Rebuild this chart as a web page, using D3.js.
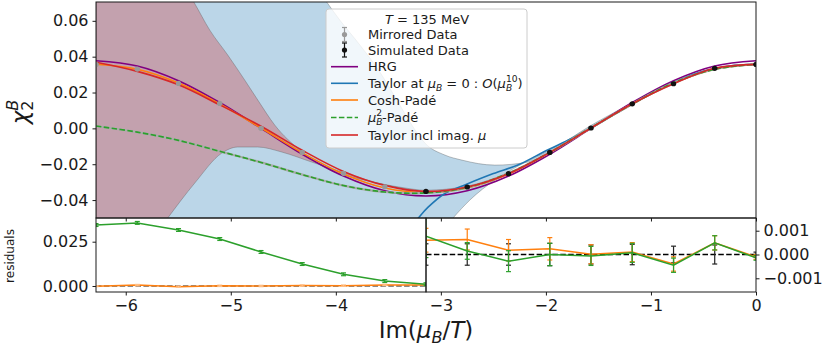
<!DOCTYPE html>
<html>
<head>
<meta charset="utf-8">
<script src="https://cdn.jsdelivr.net/npm/d3@7"></script>
<style>
  body { margin: 0; background: #fff; }
  svg { display: block; font-family: "DejaVu Sans", sans-serif; }
</style>
</head>
<body>
<svg id="chart" width="825" height="350"></svg>
<script>
// ---- data ----
// Im(mu_B/T) grid, steps of pi/8 from -2pi to 0
const thetaGrid = [-6.283, -5.890, -5.498, -5.105, -4.712, -4.320, -3.927, -3.534, -3.142,
                   -2.749, -2.356, -1.963, -1.571, -1.178, -0.785, -0.393, 0];

const hrg        = [0.0377, 0.0348, 0.0266, 0.0144, 0.0000, -0.0144, -0.0266, -0.0348, -0.0377,
                    -0.0348, -0.0266, -0.0144, 0.0000, 0.0144, 0.0266, 0.0348, 0.0377];
const coshPade   = [0.0358, 0.0330, 0.0253, 0.0136, 0.0002, -0.0136, -0.0255, -0.0333, -0.0358,
                    -0.0333, -0.0255, -0.0136, 0.0002, 0.0136, 0.0253, 0.0330, 0.0358];
const mu2Pade    = [0.0013, -0.0021, -0.0067, -0.0128, -0.0190, -0.0258, -0.0319, -0.0355, -0.0360,
                    -0.0329, -0.0250, -0.0134, 0.0003, 0.0136, 0.0254, 0.0330, 0.0358];
const taylorImag = [0.0369, 0.0318, 0.0243, 0.0131, 0.0012, -0.0122, -0.0240, -0.0318, -0.0352,
                    -0.0327, -0.0253, -0.0134, 0.0002, 0.0137, 0.0249, 0.0335, 0.0357];

// Taylor at mu_B = 0, O(mu^10)
const thetaTaylor0 = [-3.30, -3.219, -3.124, -2.962, -2.75, -2.5, -2.25, -2.0, -1.75, -1.5,
                      -1.25, -1.0, -0.75, -0.5, -0.25, 0];
const taylor0      = [-0.0560, -0.0503, -0.0441, -0.0363, -0.0310, -0.0252, -0.0200, -0.0125, -0.0055, 0.0025,
                      0.0112, 0.0195, 0.0265, 0.0318, 0.0348, 0.0357];

// simulated data (black) and mirrored data (grey)
const thetaSim = [-3.142, -2.749, -2.356, -1.963, -1.571, -1.178, -0.785, -0.393, 0];
const chiSim   = [-0.0352, -0.0327, -0.0253, -0.0134, 0.0002, 0.0137, 0.0249, 0.0335, 0.0357];
const errSim   = [0.0004, 0.0004, 0.0004, 0.0004, 0.0004, 0.0004, 0.0004, 0.0004, 0.0001];
const thetaMirror = [-6.283, -5.890, -5.498, -5.105, -4.712, -4.320, -3.927, -3.534];
const chiMirror   = [0.0357, 0.0331, 0.0251, 0.0139, 0.0000, -0.0134, -0.0251, -0.0326];
const errMirror   = [0.0001, 0.0004, 0.0004, 0.0004, 0.0004, 0.0004, 0.0004, 0.0004];

// uncertainty bands [theta, value]
const blueUpper = [[-6.283, 0.40], [-5.0, 0.17], [-4.5, 0.11], [-4.2, 0.080], [-4.086, 0.0704], [-3.962, 0.0604],
  [-3.771, 0.0465], [-3.581, 0.0314], [-3.419, 0.0158], [-3.276, 0.0018], [-3.152, -0.0082], [-2.962, -0.0149],
  [-2.8, -0.0177], [-2.486, -0.0205], [-2.171, -0.0188], [-1.981, -0.0138], [-1.790, -0.0065], [-1.581, 0.0013],
  [-1.3, 0.0104], [-1.0, 0.0198], [-0.5, 0.0320], [0, 0.0359]];
const blueLower = [[-6.283, -0.50], [-4.0, -0.15], [-3.3, -0.080], [-3.0, -0.058], [-2.886, -0.0501], [-2.724, -0.0400],
  [-2.486, -0.0288], [-2.248, -0.0205], [-1.962, -0.0121], [-1.676, -0.0026], [-1.3, 0.0090], [-1.0, 0.0190],
  [-0.5, 0.0315], [0, 0.0355]];
const redUpper = [[-6.283, 0.25], [-5.9, 0.13], [-5.6, 0.096], [-5.45, 0.080], [-5.352, 0.0705], [-5.2, 0.0548],
  [-5.029, 0.0409], [-4.867, 0.0269], [-4.743, 0.0158], [-4.581, 0.0018], [-4.343, -0.0121], [-4.057, -0.0233],
  [-3.724, -0.0289], [-3.390, -0.0328], [-3.142, -0.0345], [-2.749, -0.0322], [-2.356, -0.0249], [-1.963, -0.0131],
  [-1.571, 0.0005], [-1.178, 0.0140], [-0.785, 0.0252], [-0.393, 0.0338], [0, 0.0360]];
const redLower = [[-6.283, -0.12], [-6.0, -0.085], [-5.7, -0.058], [-5.6, -0.0500], [-5.343, -0.0305], [-5.086, -0.0138],
  [-4.933, -0.0104], [-4.743, -0.0104], [-4.514, -0.0132], [-4.229, -0.0188], [-3.914, -0.0249], [-3.6, -0.0305],
  [-3.276, -0.0344], [-3.142, -0.0356], [-2.749, -0.0332], [-2.356, -0.0257], [-1.963, -0.0137], [-1.571, -0.0001],
  [-1.178, 0.0134], [-0.785, 0.0246], [-0.393, 0.0332], [0, 0.0354]];

// residuals, left panel (mirrored side, -2pi .. -pi)
const resLeftGreen     = [0.0344, 0.0356, 0.0316, 0.0265, 0.0192, 0.0124, 0.0066, 0.0028, 0.0010];
const resLeftGreenErr  = [0.0008, 0.0008, 0.0008, 0.0008, 0.0008, 0.0008, 0.0008, 0.0008, 0.0008];
const resLeftOrange    = [-0.0001, 0.00049, -0.0004, 0.0001, 0.00001, 0.00024, 0.00018, 0.00063, 0.0006];
const resLeftOrangeErr = [0.0003, 0.0004, 0.0004, 0.0004, 0.0004, 0.0004, 0.0004, 0.0004, 0.0004];
// residuals, right panel (-pi .. 0)
const resRightOrange    = [0.0006, 0.00063, 0.00018, 0.00024, 0.00001, 0.0001, -0.0004, 0.00049, -0.0001];
const resRightOrangeErr = [0.0005, 0.00044, 0.00045, 0.00047, 0.0004, 0.0004, 0.0003, 0.0003, 0.0001];
const resRightGreen     = [0.00077, 0.00015, -0.00028, 0.0, -0.00006, 0.00007, -0.00045, 0.00049, -0.00014];
const resRightGreenErr  = [0.0009, 0.00035, 0.00044, 0.00047, 0.0004, 0.0004, 0.0003, 0.0003, 0.0001];
const resRightDataErr   = [0.00045, 0.00045, 0.00045, 0.00047, 0.0004, 0.00043, 0.00035, 0.0004, 0.0001];

const xTicks = [-6, -5, -4, -3, -2, -1, 0];
const yTicks = [-0.04, -0.02, 0.00, 0.02, 0.04, 0.06];
const resLeftTicks = [0.000, 0.025];
const resRightTicks = [-0.001, 0.000, 0.001];

// ---- colours ----
const C = {
  blue: '#1f77b4', orange: '#ff7f0e', green: '#2ca02c', red: '#d62728', purple: '#800080',
  grey: '#999999', black: '#000000'
};

// ---- layout ----
const L = 96, R = 756, T = 2, MB = 218, RB = 292;
const svg = d3.select('#chart');

const x = d3.scaleLinear().domain([-2 * Math.PI, 0]).range([L, R]);
const y = d3.scaleLinear().domain([-0.05, 0.0705]).range([MB, T]);
const xSplit = x(-Math.PI);
const yResL = d3.scaleLinear().domain([-0.00339, 0.03837]).range([RB, MB]);
const yResR = d3.scaleLinear().domain([-0.001576, 0.001534]).range([RB, MB]);

const defs = svg.append('defs');
defs.append('clipPath').attr('id', 'clipMain')
  .append('rect').attr('x', L).attr('y', T).attr('width', R - L).attr('height', MB - T);
defs.append('clipPath').attr('id', 'clipResL')
  .append('rect').attr('x', L).attr('y', MB).attr('width', xSplit - L).attr('height', RB - MB);
defs.append('clipPath').attr('id', 'clipResR')
  .append('rect').attr('x', xSplit).attr('y', MB).attr('width', R - xSplit).attr('height', RB - MB);

// ---- helpers ----
function errorBars(g, xs, ys, es, yS, color, cap, width) {
  xs.forEach((t, i) => {
    const cx = x(t), y0 = yS(ys[i] - es[i]), y1 = yS(ys[i] + es[i]);
    g.append('line').attr('x1', cx).attr('x2', cx).attr('y1', y0).attr('y2', y1)
      .attr('stroke', color).attr('stroke-width', width);
    [y0, y1].forEach(yy => g.append('line')
      .attr('x1', cx - cap / 2).attr('x2', cx + cap / 2).attr('y1', yy).attr('y2', yy)
      .attr('stroke', color).attr('stroke-width', width));
  });
}

function mathText(sel, parts, size) {
  let cur = 0;
  parts.forEach(p => {
    const ts = sel.append('tspan').text(p.t);
    let target = 0, fs = size;
    if (p.sub) { target = 0.22 * size; fs = 0.7 * size; }
    if (p.sup) { target = -0.45 * size; fs = 0.7 * size; }
    if (target - cur !== 0) ts.attr('dy', target - cur);
    cur = target;
    ts.attr('font-size', fs);
    if (p.it) ts.attr('font-style', 'italic');
    if (p.dx) ts.attr('dx', p.dx * size);
  });
}

// ---- main panel ----
const main = svg.append('g').attr('clip-path', 'url(#clipMain)');

const edge = d3.line().x(d => x(d[0])).y(d => y(d[1])).curve(d3.curveMonotoneX);
function bandPath(upper, lower) {
  return edge(upper) + 'L' + edge(lower.slice().reverse()).slice(1) + 'Z';
}
main.append('path').attr('d', bandPath(blueUpper, blueLower))
  .attr('fill', C.blue).attr('fill-opacity', 0.3)
  .attr('stroke', '#555').attr('stroke-opacity', 0.45).attr('stroke-width', 0.8);
main.append('path').attr('d', bandPath(redUpper, redLower))
  .attr('fill', C.red).attr('fill-opacity', 0.3)
  .attr('stroke', '#555').attr('stroke-opacity', 0.45).attr('stroke-width', 0.8);

const gridLine = vals => d3.line().x((d, i) => x(thetaGrid[i])).y(d => y(d))
  .curve(d3.curveCatmullRom)(vals);

main.append('path').attr('d', gridLine(hrg)).attr('fill', 'none')
  .attr('stroke', C.purple).attr('stroke-width', 1.6);
main.append('path')
  .attr('d', d3.line().x((d, i) => x(thetaTaylor0[i])).y(d => y(d)).curve(d3.curveCatmullRom)(taylor0))
  .attr('fill', 'none').attr('stroke', C.blue).attr('stroke-width', 1.6);
main.append('path').attr('d', gridLine(coshPade)).attr('fill', 'none')
  .attr('stroke', C.orange).attr('stroke-width', 1.6);
main.append('path').attr('d', gridLine(mu2Pade)).attr('fill', 'none')
  .attr('stroke', '#aaaaaa').attr('stroke-width', 2.2);
main.append('path').attr('d', gridLine(mu2Pade)).attr('fill', 'none')
  .attr('stroke', C.green).attr('stroke-width', 1.6).attr('stroke-dasharray', '5.5,2.4');
main.append('path').attr('d', gridLine(taylorImag)).attr('fill', 'none')
  .attr('stroke', C.red).attr('stroke-width', 1.6);

// data points
const pts = main.append('g');
errorBars(pts, thetaMirror, chiMirror, errMirror, y, C.grey, 5, 1.2);
pts.selectAll('circle.mir').data(chiMirror).enter().append('circle')
  .attr('cx', (d, i) => x(thetaMirror[i])).attr('cy', d => y(d)).attr('r', 2.6).attr('fill', C.grey);
errorBars(pts, thetaSim, chiSim, errSim, y, '#111', 5, 1.2);
pts.selectAll('circle.sim').data(chiSim).enter().append('circle')
  .attr('cx', (d, i) => x(thetaSim[i])).attr('cy', d => y(d)).attr('r', 2.6).attr('fill', '#111');

// ---- residual panels ----
const zeroDash = '5.5,2.4';
const resL = svg.append('g').attr('clip-path', 'url(#clipResL)');
const thetaLeft = thetaGrid.slice(0, 9);
const thetaRight = thetaGrid.slice(8);
resL.append('line').attr('x1', L).attr('x2', xSplit).attr('y1', yResL(0)).attr('y2', yResL(0))
  .attr('stroke', '#666').attr('stroke-width', 1.4).attr('stroke-dasharray', zeroDash);
const lineL = d3.line().x((d, i) => x(thetaLeft[i])).y(d => yResL(d));
resL.append('path').attr('d', lineL(resLeftOrange)).attr('fill', 'none')
  .attr('stroke', C.orange).attr('stroke-width', 1.5);
errorBars(resL, thetaLeft, resLeftOrange, resLeftOrangeErr, yResL, '#ffbf86', 5, 1.2);
resL.append('path').attr('d', lineL(resLeftGreen)).attr('fill', 'none')
  .attr('stroke', C.green).attr('stroke-width', 1.5);
errorBars(resL, thetaLeft, resLeftGreen, resLeftGreenErr, yResL, C.green, 5, 1.2);

const resR = svg.append('g').attr('clip-path', 'url(#clipResR)');
resR.append('line').attr('x1', xSplit).attr('x2', R).attr('y1', yResR(0)).attr('y2', yResR(0))
  .attr('stroke', '#000').attr('stroke-width', 1.4).attr('stroke-dasharray', zeroDash);
errorBars(resR, thetaRight, thetaRight.map(() => 0), resRightDataErr, yResR, '#222', 5, 1.2);
const lineR = d3.line().x((d, i) => x(thetaRight[i])).y(d => yResR(d));
resR.append('path').attr('d', lineR(resRightOrange)).attr('fill', 'none')
  .attr('stroke', C.orange).attr('stroke-width', 1.5);
errorBars(resR, thetaRight, resRightOrange, resRightOrangeErr, yResR, C.orange, 5, 1.2);
resR.append('path').attr('d', lineR(resRightGreen)).attr('fill', 'none')
  .attr('stroke', C.green).attr('stroke-width', 1.5);
errorBars(resR, thetaRight, resRightGreen, resRightGreenErr, yResR, C.green, 5, 1.2);

// ---- axes ----
function styleAxis(g, size) {
  g.select('.domain').remove();
  g.selectAll('.tick line').attr('stroke', '#000').attr('stroke-width', 0.9);
  g.selectAll('.tick text').attr('fill', '#1a1a1a').attr('font-size', size)
    .attr('font-family', '"DejaVu Sans", sans-serif');
}
const TICK = 16;
svg.append('g').attr('transform', `translate(${L},0)`)
  .call(d3.axisLeft(y).tickValues(yTicks).tickFormat(d3.format('.2f')).tickSize(3.5).tickPadding(4))
  .call(g => styleAxis(g, TICK));
svg.append('g').attr('transform', `translate(0,${MB})`)
  .call(d3.axisBottom(x).tickValues(xTicks).tickFormat('').tickSize(3.5))
  .call(g => styleAxis(g, TICK));
svg.append('g').attr('transform', `translate(0,${RB})`)
  .call(d3.axisBottom(x).tickValues(xTicks).tickFormat(d3.format('d')).tickSize(3.5).tickPadding(4))
  .call(g => styleAxis(g, TICK));
svg.append('g').attr('transform', `translate(${L},0)`)
  .call(d3.axisLeft(yResL).tickValues(resLeftTicks).tickFormat(d3.format('.3f')).tickSize(3.5).tickPadding(4))
  .call(g => styleAxis(g, TICK));
svg.append('g').attr('transform', `translate(${R},0)`)
  .call(d3.axisRight(yResR).tickValues(resRightTicks).tickFormat(d3.format('.3f')).tickSize(3.5).tickPadding(4))
  .call(g => styleAxis(g, TICK));

// frames
[[L, T, R - L, MB - T], [L, MB, xSplit - L, RB - MB], [xSplit, MB, R - xSplit, RB - MB]].forEach(r => {
  svg.append('rect').attr('x', r[0]).attr('y', r[1]).attr('width', r[2]).attr('height', r[3])
    .attr('fill', 'none').attr('stroke', '#1a1a1a').attr('stroke-width', 1);
});

// axis labels
const yl = svg.append('text').attr('transform', 'translate(28,112) rotate(-90)')
  .attr('text-anchor', 'middle').attr('fill', '#1a1a1a');
mathText(yl, [{ t: 'χ', it: true }, { t: '2', sub: true }, { t: 'B', sup: true, it: true, dx: -0.445 }], 23);

const xl = svg.append('text').attr('x', (L + R) / 2).attr('y', 338)
  .attr('text-anchor', 'middle').attr('fill', '#1a1a1a');
mathText(xl, [{ t: 'Im(' }, { t: 'μ', it: true }, { t: 'B', sub: true, it: true }, { t: '/' },
  { t: 'T', it: true }, { t: ')' }], 23);

svg.append('text').attr('transform', 'translate(14,256) rotate(-90)')
  .attr('text-anchor', 'middle').attr('font-size', 12).attr('fill', '#1a1a1a').text('residuals');

// ---- legend ----
const lg = svg.append('g');
lg.append('rect').attr('x', 326).attr('y', 9).attr('width', 201).attr('height', 139).attr('rx', 3)
  .attr('fill', '#fff').attr('fill-opacity', 0.8).attr('stroke', '#cccccc').attr('stroke-width', 1);
const LS = 13;
const title = lg.append('text').attr('x', 427).attr('y', 24).attr('text-anchor', 'middle')
  .attr('fill', '#1a1a1a');
mathText(title, [{ t: 'T', it: true }, { t: ' = 135 MeV' }], LS);

function legendErr(cy, color) {
  lg.append('line').attr('x1', 344.5).attr('x2', 344.5).attr('y1', cy - 7).attr('y2', cy + 7)
    .attr('stroke', color).attr('stroke-width', 1.2);
  [cy - 7, cy + 7].forEach(yy => lg.append('line').attr('x1', 342).attr('x2', 347).attr('y1', yy).attr('y2', yy)
    .attr('stroke', color).attr('stroke-width', 1.2));
  lg.append('circle').attr('cx', 344.5).attr('cy', cy).attr('r', 2.6).attr('fill', color);
}
function legendLine(cy, color, dash) {
  lg.append('line').attr('x1', 331).attr('x2', 358).attr('y1', cy).attr('y2', cy)
    .attr('stroke', color).attr('stroke-width', 1.6).attr('stroke-dasharray', dash || null);
}
function legendText(cy, parts) {
  const t = lg.append('text').attr('x', 368).attr('y', cy + 4.5).attr('fill', '#1a1a1a');
  mathText(t, parts, LS);
}
legendErr(34.5, C.grey);   legendText(34.5, [{ t: 'Mirrored Data' }]);
legendErr(50, '#111');     legendText(50, [{ t: 'Simulated Data' }]);
legendLine(66.7, C.purple); legendText(66.7, [{ t: 'HRG' }]);
legendLine(83.3, C.blue);
legendText(83.3, [{ t: 'Taylor at ' }, { t: 'μ', it: true }, { t: 'B', sub: true, it: true }, { t: ' = 0 : ' },
  { t: 'O', it: true }, { t: '(' }, { t: 'μ', it: true }, { t: 'B', sub: true, it: true },
  { t: '10', sup: true, dx: -0.48 }, { t: ')' }]);
legendLine(100, C.orange); legendText(100, [{ t: 'Cosh-Padé' }]);
legendLine(117.5, C.green, '5.5,2.4');
legendText(117.5, [{ t: 'μ', it: true }, { t: 'B', sub: true, it: true }, { t: '2', sup: true, dx: -0.48 },
  { t: '-Padé' }]);
legendLine(135, C.red);
legendText(135, [{ t: 'Taylor incl imag. ' }, { t: 'μ', it: true }]);
</script>
</body>
</html>
